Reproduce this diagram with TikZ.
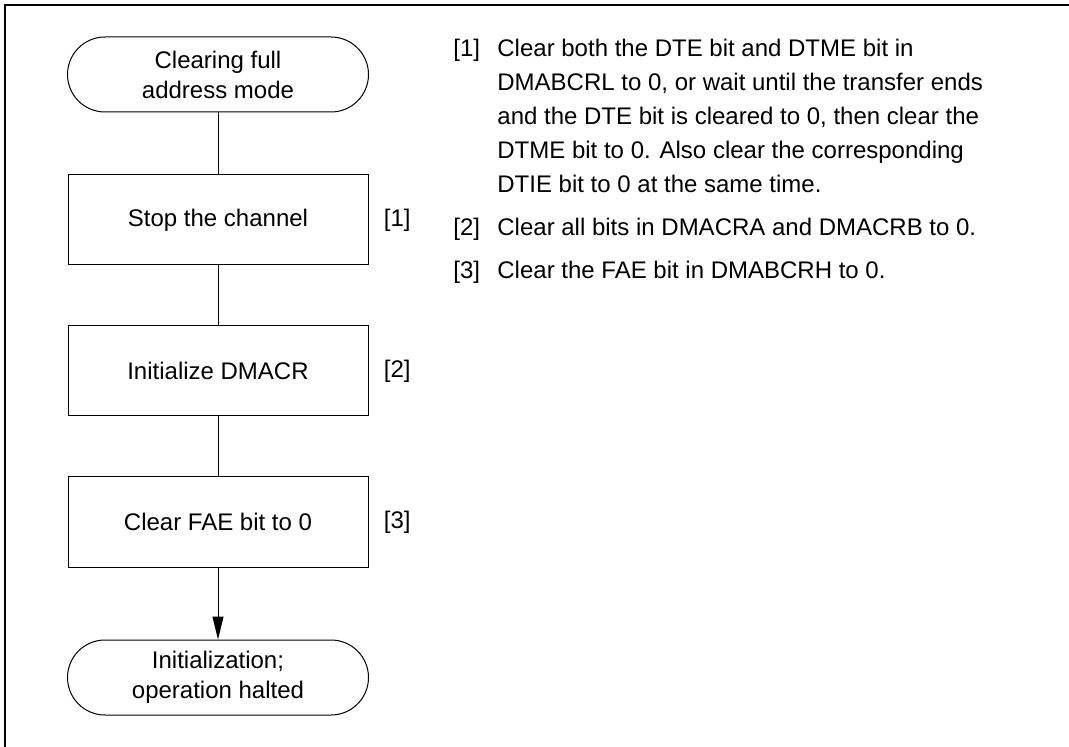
\documentclass[tikz,border=0pt]{standalone}
\usepackage{fontspec}
\setmainfont{Liberation Sans}
\usetikzlibrary{positioning,arrows.meta}

\begin{document}
\begin{tikzpicture}[
    >={Triangle[length=11.5pt,width=5.5pt]},
    every node/.style={font=\fontsize{12pt}{15pt}\selectfont},
    term/.style={
        rectangle, rounded corners=18.75pt, draw, line width=0.5pt,
        minimum width=150.5pt, minimum height=37.5pt, align=center
    },
    stepbox/.style={
        rectangle, draw, line width=0.5pt,
        minimum width=150pt, minimum height=45pt, align=center
    },
    tag/.style={inner sep=0pt},
    note/.style={inner sep=0pt, anchor=base west, align=left,
        font=\fontsize{12pt}{17pt}\selectfont},
    para/.style={inner sep=0pt, anchor=north west, align=left,
        font=\fontsize{12pt}{17pt}\selectfont}
]
\useasboundingbox (0,0) rectangle (534.5pt,-373.5pt);

% open frame
\draw[line width=1pt] (2.65pt,-373.5pt) -- (2.65pt,-2.5pt) -- (534.5pt,-2.5pt);

% flow
\node[term] (start) at (109pt,-37.25pt) {Clearing full\\address mode};
\node[stepbox, below=31pt of start] (stop) {Stop the channel};
\node[stepbox, below=30pt of stop] (init) {Initialize DMACR};
\node[stepbox, below=30pt of init] (fae) {Clear FAE bit to 0};
\node[term, below=36pt of fae] (halt) {Initialization;\\operation halted};

\node[tag, right=7.5pt of stop] (n1) {[1]};
\node[tag, right=7.5pt of init] (n2) {[2]};
\node[tag, right=7.5pt of fae] (n3) {[3]};

\draw[line width=0.5pt] (start) -- (stop);
\draw[line width=0.5pt] (stop) -- (init);
\draw[line width=0.5pt] (init) -- (fae);
\draw[->, line width=0.5pt] (fae) -- (halt);

% notes
\node[note] (k1) at (226.5pt,-28.3pt) {[1]};
\node[para] (t1) at (248.5pt,-19.6pt) {Clear both the DTE bit and DTME bit in\\
    DMABCRL to 0, or wait until the transfer ends\\
    and the DTE bit is cleared to 0, then clear the\\
    DTME bit to 0. Also clear the corresponding\\
    DTIE bit to 0 at the same time.};
\node[note] (k2) at (226.5pt,-117.8pt) {[2]};
\node[note] (t2) at (248.5pt,-117.8pt) {Clear all bits in DMACRA and DMACRB to 0.};
\node[note] (k3) at (226.5pt,-139.3pt) {[3]};
\node[note] (t3) at (248.5pt,-139.3pt) {Clear the FAE bit in DMABCRH to 0.};

\end{tikzpicture}
\end{document}
